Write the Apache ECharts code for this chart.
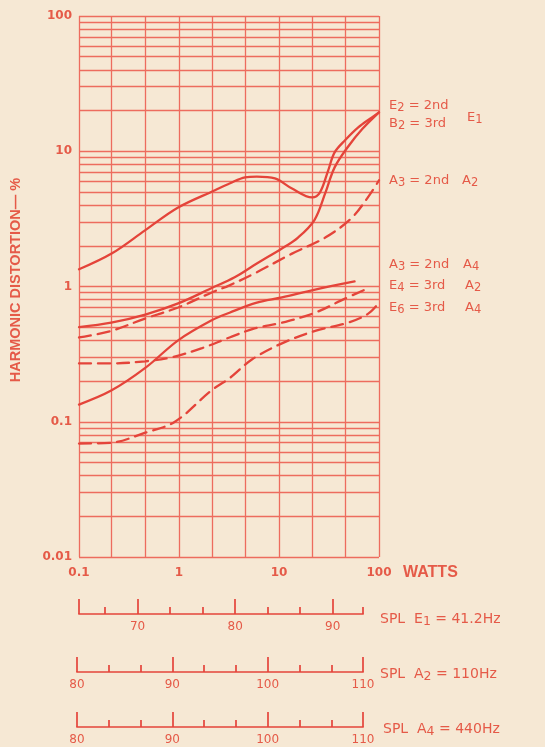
<!DOCTYPE html>
<html><head><meta charset="utf-8">
<script src="https://cdn.jsdelivr.net/npm/echarts@6/dist/echarts.min.js"></script>
<style>html,body{margin:0;padding:0;background:#f6e8d4;}#c{width:545px;height:747px;}</style>
</head><body><div id="c"></div>
<script>
// ---------- data ----------
const xTickLabels = ['0.1', '1', '10', '100'];
const yTickLabels = ['0.01', '0.1', '1', '10', '100'];
const xGridLines = [0.1, 0.215, 0.464, 1, 2.15, 4.64, 10, 21.5, 46.4, 100];
const yGridLines = [0.01,0.02,0.03,0.04,0.05,0.06,0.07,0.08,0.09,
  0.1,0.2,0.3,0.4,0.5,0.6,0.7,0.8,0.9,
  1,2,3,4,5,6,7,8,9,
  10,20,30,40,50,60,70,80,90,100];

// E1 2nd harmonic (solid, hump)
const e1SecondW = [0.1, 0.214, 0.457, 0.98, 2.29, 3.24, 4.57, 6.0, 9.1, 13.5, 21.4, 25.7, 31, 36, 46, 62, 85, 100];
const e1SecondD = [1.34, 1.76, 2.60, 3.84, 5.15, 5.8, 6.42, 6.5, 6.3, 5.3, 4.56, 4.97, 7.2, 9.8, 12.1, 15, 17.8, 19.4];
// E1 3rd harmonic (solid)
const e1ThirdW = [0.1, 0.21, 0.46, 0.98, 2.1, 3.6, 6.0, 10.7, 15.5, 22.6, 29, 36, 49, 68, 100];
const e1ThirdD = [0.50, 0.54, 0.62, 0.75, 0.97, 1.17, 1.48, 1.91, 2.3, 3.1, 4.9, 7.6, 10.8, 14.6, 19.4];
// A2 2nd harmonic (dashed)
const a2SecondW = [0.1, 0.21, 0.46, 0.98, 2.1, 3.2, 5.7, 13.5, 29, 53, 78, 100];
const a2SecondD = [0.42, 0.47, 0.58, 0.70, 0.90, 1.02, 1.25, 1.75, 2.3, 3.2, 4.6, 6.1];
// A4 2nd harmonic (solid)
const a4SecondW = [0.1, 0.21, 0.46, 0.98, 2.1, 3.2, 6.0, 10.7, 23, 57];
const a4SecondD = [0.134, 0.17, 0.25, 0.40, 0.56, 0.64, 0.76, 0.83, 0.95, 1.09];
// A2 3rd harmonic (dashed)
const a2ThirdW = [0.1, 0.21, 0.46, 0.85, 1.7, 3.2, 5.7, 10.7, 23, 42, 80];
const a2ThirdD = [0.27, 0.27, 0.28, 0.30, 0.35, 0.42, 0.49, 0.54, 0.64, 0.79, 0.98];
// A4 3rd harmonic (dashed)
const a4ThirdW = [0.1, 0.21, 0.46, 0.91, 2.1, 3.2, 5.4, 10.7, 23, 49, 78, 100];
const a4ThirdD = [0.069, 0.07, 0.083, 0.10, 0.17, 0.21, 0.29, 0.38, 0.47, 0.54, 0.63, 0.76];

// SPL scales
const spl1Range = [64, 93.1];
const spl1Major = [64, 70, 80, 90];
const spl1Minor = [66.67, 73.33, 76.67, 83.33, 86.67, 93.1];
const spl1Labels = [70, 80, 90];
const spl23Range = [80, 110];
const spl23Major = [80, 90, 100, 110];
const spl23Minor = [83.33, 86.67, 93.33, 96.67, 103.33, 106.67];
const spl23Labels = [80, 90, 100, 110];

const yAxisTitle = 'HARMONIC DISTORTION— %';
const curveLabels = [
  {text: 'E_2 = 2nd', x: 389, y: 105},
  {text: 'B_2 = 3rd', x: 389, y: 123},
  {text: 'E_1', x: 467, y: 117},
  {text: 'A_3 = 2nd', x: 389, y: 180},
  {text: 'A_2', x: 462, y: 180},
  {text: 'A_3 = 2nd', x: 389, y: 264},
  {text: 'A_4', x: 463, y: 264},
  {text: 'E_4 = 3rd', x: 389, y: 285},
  {text: 'A_2', x: 465, y: 285},
  {text: 'E_6 = 3rd', x: 389, y: 307},
  {text: 'A_4', x: 465, y: 307}
];
const splLabels = [
  {text: 'SPL  E_1 = 41.2Hz', x: 380, y: 618},
  {text: 'SPL  A_2 = 110Hz', x: 380, y: 673},
  {text: 'SPL  A_4 = 440Hz', x: 383, y: 728}
];

// ---------- style ----------
const TXT = '#e55a48';
const GRIDC = '#ed6c5e';
const CURVE = '#e4443a';
const FONT = 'DejaVu Sans';
const DASH = [12, 7];

function pairs(xs, ys) { return xs.map((x, i) => [x, ys[i]]); }
function curve(name, xs, ys, dashed) {
  return {
    name, type: 'line', xAxisIndex: 0, yAxisIndex: 0,
    data: pairs(xs, ys), showSymbol: false, symbol: 'none', smooth: 0.35,
    lineStyle: {color: CURVE, width: 2.3, type: dashed ? DASH : 'solid', cap: 'round'},
    silent: true, z: 5
  };
}
function richText(str) {
  let out = '';
  let buf = '';
  for (let i = 0; i < str.length; i++) {
    if (str[i] === '_' && i + 1 < str.length) {
      if (buf) { out += '{n|' + buf + '}'; buf = ''; }
      out += '{s|' + str[i + 1] + '}';
      i++;
    } else buf += str[i];
  }
  if (buf) out += '{n|' + buf + '}';
  return out;
}
function makeRich(size) {
  return {
    n: {fontSize: size, fontFamily: FONT, fill: TXT, color: TXT, lineHeight: size + 2, verticalAlign: 'top'},
    s: {fontSize: size - 1.5, fontFamily: FONT, fill: TXT, color: TXT, lineHeight: size, padding: [6, 0, 0, 0], verticalAlign: 'bottom'}
  };
}

function splAxes(gi, range, major, minor, labels) {
  return [
    {gridIndex: gi, type: 'value', min: range[0], max: range[1], position: 'bottom',
     axisLine: {show: true, lineStyle: {color: CURVE, width: 1.7}},
     axisTick: {show: true, inside: true, length: 15, customValues: major, lineStyle: {color: CURVE, width: 1.7}},
     axisLabel: {show: true, customValues: labels, margin: 7, color: TXT, fontSize: 12, fontFamily: FONT},
     splitLine: {show: false}},
    {gridIndex: gi, type: 'value', min: range[0], max: range[1], position: 'bottom',
     axisLine: {show: false},
     axisTick: {show: true, inside: true, length: 7, customValues: minor, lineStyle: {color: CURVE, width: 1.7}},
     axisLabel: {show: false}, splitLine: {show: false}}
  ];
}

const chart = echarts.init(document.getElementById('c'), null, {renderer: 'canvas'});
const option = {
  backgroundColor: '#f6e8d4',
  animation: false,
  grid: [
    {left: 79, top: 16, width: 300, height: 541},
    {left: 79, top: 613, width: 284, height: 1},
    {left: 77, top: 671, width: 286, height: 1},
    {left: 77, top: 726, width: 286, height: 1}
  ],
  xAxis: [
    {gridIndex: 0, type: 'log', logBase: 10, min: 0.1, max: 100,
     axisLine: {show: false}, axisTick: {show: false}, splitLine: {show: false},
     axisLabel: {color: TXT, fontSize: 12, fontWeight: 'bold', fontFamily: FONT, margin: 10,
       formatter: v => xTickLabels.find(t => Math.abs(parseFloat(t) - v) < 1e-6 * Math.max(1, v)) || ''}}
  ].concat(splAxes(1, spl1Range, spl1Major, spl1Minor, spl1Labels))
   .concat(splAxes(2, spl23Range, spl23Major, spl23Minor, spl23Labels))
   .concat(splAxes(3, spl23Range, spl23Major, spl23Minor, spl23Labels)),
  yAxis: [
    {gridIndex: 0, type: 'log', logBase: 10, min: 0.01, max: 100,
     axisLine: {show: false}, axisTick: {show: false}, splitLine: {show: false},
     axisLabel: {color: TXT, fontSize: 12, fontWeight: 'bold', fontFamily: FONT, margin: 7,
       formatter: v => yTickLabels.find(t => Math.abs(parseFloat(t) - v) < 1e-6 * Math.max(1, v)) || ''}},
    {gridIndex: 1, type: 'value', show: false, min: 0, max: 1},
    {gridIndex: 2, type: 'value', show: false, min: 0, max: 1},
    {gridIndex: 3, type: 'value', show: false, min: 0, max: 1}
  ],
  series: [
    {name: 'grid', type: 'line', xAxisIndex: 0, yAxisIndex: 0, data: [[0.1, 0.01]],
     showSymbol: false, symbol: 'none', lineStyle: {opacity: 0}, silent: true, z: 1,
     markLine: {silent: true, symbol: 'none', animation: false, label: {show: false},
       lineStyle: {color: GRIDC, width: 1.3, type: 'solid'},
       emphasis: {disabled: true},
       data: yGridLines.map(v => ({yAxis: v})).concat(xGridLines.map(v => ({xAxis: v})))}},
    curve('E1 2nd', e1SecondW, e1SecondD, false),
    curve('E1 3rd', e1ThirdW, e1ThirdD, false),
    curve('A2 2nd', a2SecondW, a2SecondD, true),
    curve('A4 2nd', a4SecondW, a4SecondD, false),
    curve('A2 3rd', a2ThirdW, a2ThirdD, true),
    curve('A4 3rd', a4ThirdW, a4ThirdD, true)
  ],
  graphic: [
    {type: 'text', left: 403, top: 565, silent: true,
     style: {text: 'WATTS', fill: TXT, font: 'bold 16px "Liberation Sans"'}},
    {type: 'text', x: 16, y: 280, rotation: Math.PI / 2, silent: true,
     style: {text: yAxisTitle, fill: TXT, font: 'bold 14.5px "Liberation Sans"', align: 'center', verticalAlign: 'middle'}}
  ].concat(curveLabels.map(l => ({
    type: 'text', x: l.x, y: l.y + 2, silent: true,
    style: {text: richText(l.text), rich: makeRich(13), verticalAlign: 'middle', align: 'left', fill: TXT}
  }))).concat(splLabels.map(l => ({
    type: 'text', x: l.x, y: l.y + 2, silent: true,
    style: {text: richText(l.text), rich: makeRich(14), verticalAlign: 'middle', align: 'left', fill: TXT}
  })))
};
chart.setOption(option);
</script>
</body></html>
